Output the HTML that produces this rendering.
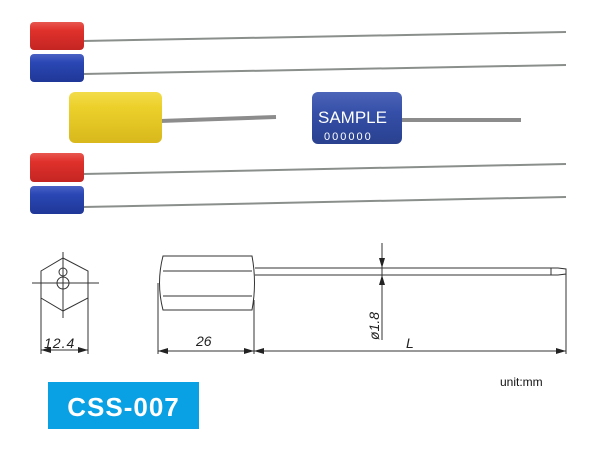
<!DOCTYPE html>
<html><head><style>
html,body{margin:0;padding:0;background:#fff;}
svg{display:block;}
</style></head><body>
<svg width="601" height="451" viewBox="0 0 601 451" xmlns="http://www.w3.org/2000/svg" font-family="Liberation Sans, sans-serif">
<defs>
<linearGradient id="r" x1="0" y1="0" x2="0" y2="1"><stop offset="0" stop-color="#e8584f"/><stop offset="0.3" stop-color="#e0312c"/><stop offset="1" stop-color="#c42522"/></linearGradient>
<linearGradient id="b" x1="0" y1="0" x2="0" y2="1"><stop offset="0" stop-color="#4a62c4"/><stop offset="0.3" stop-color="#2a47b4"/><stop offset="1" stop-color="#1f3797"/></linearGradient>
<linearGradient id="y" x1="0" y1="0" x2="0" y2="1"><stop offset="0" stop-color="#f2dc4a"/><stop offset="0.3" stop-color="#ecd02a"/><stop offset="1" stop-color="#d8b81c"/></linearGradient>
<linearGradient id="b2" x1="0" y1="0" x2="0" y2="1"><stop offset="0" stop-color="#4d65b8"/><stop offset="0.4" stop-color="#354fa8"/><stop offset="1" stop-color="#2a418f"/></linearGradient>
<marker id="a" viewBox="0 0 10 6" refX="10" refY="3" markerWidth="10" markerHeight="6" orient="auto-start-reverse" markerUnits="userSpaceOnUse"><path d="M0,0L10,3L0,6z" fill="#222"/></marker>
</defs>
<rect width="601" height="451" fill="#fff"/>
<!-- wires -->
<g stroke="#8a8f8c" stroke-width="2" fill="none">
<line x1="83" y1="41" x2="566" y2="32"/>
<line x1="83" y1="74" x2="566" y2="65"/>
<line x1="83" y1="174" x2="566" y2="164"/>
<line x1="83" y1="207" x2="566" y2="197"/>
</g>
<line x1="160" y1="121" x2="276" y2="117" stroke="#8c8c8c" stroke-width="4"/>
<line x1="400" y1="120" x2="521" y2="120" stroke="#8c8c8c" stroke-width="4"/>
<!-- seals -->
<rect x="30" y="22" width="54" height="28" rx="4" fill="url(#r)"/>
<rect x="30" y="54" width="54" height="28" rx="4" fill="url(#b)"/>
<rect x="30" y="153" width="54" height="29" rx="4" fill="url(#r)"/>
<rect x="30" y="186" width="54" height="28" rx="4" fill="url(#b)"/>
<rect x="69" y="92" width="93" height="51" rx="6" fill="url(#y)"/>
<rect x="312" y="92" width="90" height="52" rx="6" fill="url(#b2)"/>
<text x="318" y="123" fill="#fff" font-size="17">SAMPLE</text>
<text x="324" y="140" fill="#fff" font-size="11" letter-spacing="2">000000</text>
<!-- drawing -->
<g stroke="#333" stroke-width="1" fill="none">
<polygon points="63,258 88,271 88,298 63,311 41,298 41,271"/>
<line x1="63" y1="252" x2="63" y2="318"/>
<line x1="32" y1="283" x2="99" y2="283"/>
<circle cx="63" cy="272" r="4"/>
<circle cx="63" cy="283" r="6"/>
<line x1="41" y1="298" x2="41" y2="354"/>
<line x1="88" y1="298" x2="88" y2="354"/>
<line x1="41" y1="350" x2="88" y2="350" marker-start="url(#a)" marker-end="url(#a)"/>
<path d="M163,256 L252,256 Q257,283 252,310 L163,310 Q156,283 163,256z"/>
<line x1="163" y1="271" x2="252" y2="271"/>
<line x1="163" y1="296" x2="252" y2="296"/>
<line x1="255" y1="268" x2="551" y2="268"/>
<line x1="255" y1="275" x2="551" y2="275"/>
<path d="M551,268 L558,268 L566,269 L566,274 L558,275 L551,275z"/>
<line x1="158" y1="283" x2="158" y2="354"/>
<line x1="254" y1="300" x2="254" y2="354"/>
<line x1="566" y1="271" x2="566" y2="354"/>
<line x1="158" y1="351" x2="254" y2="351" marker-start="url(#a)" marker-end="url(#a)"/>
<line x1="254" y1="351" x2="566" y2="351" marker-start="url(#a)" marker-end="url(#a)"/>
<line x1="382" y1="243" x2="382" y2="340"/>
<line x1="382" y1="255" x2="382" y2="268" marker-end="url(#a)"/>
<line x1="382" y1="288" x2="382" y2="275" marker-end="url(#a)"/>
</g>
<text x="44" y="348" font-size="14" fill="#222" font-style="italic" letter-spacing="1">12.4</text>
<text x="196" y="346" font-size="14" fill="#222" font-style="italic">26</text>
<text x="406" y="348" font-size="14" fill="#222" font-style="italic">L</text>
<text transform="translate(379,340) rotate(-90)" font-size="14" fill="#222" font-style="italic">ø1.8</text>
<text x="500" y="386" font-size="12" fill="#111">unit:mm</text>
<rect x="48" y="382" width="151" height="47" fill="#0aa0e4"/>
<text x="123.5" y="416" font-size="26" font-weight="bold" fill="#fff" text-anchor="middle" letter-spacing="1">CSS-007</text>
</svg>
</body></html>
